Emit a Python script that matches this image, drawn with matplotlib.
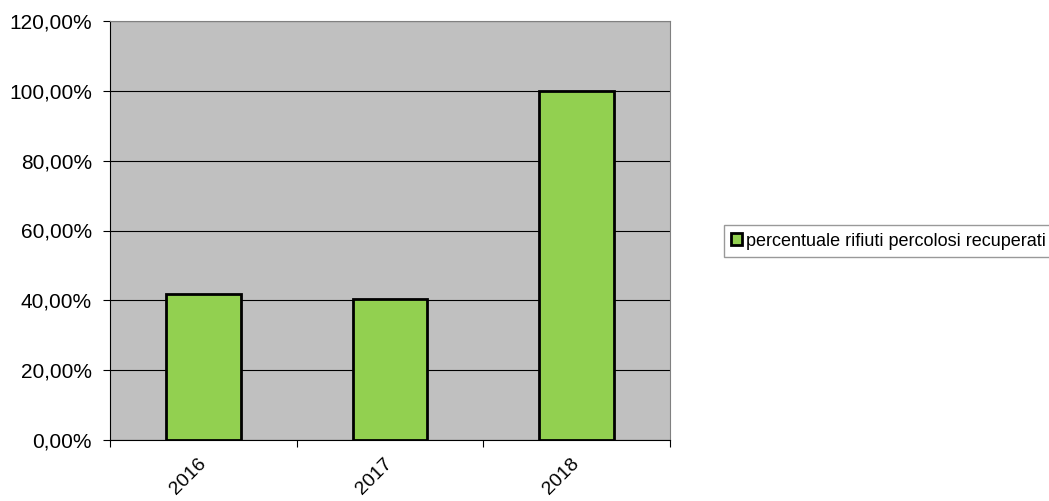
import matplotlib.pyplot as plt
from matplotlib.ticker import FuncFormatter
import numpy as np

years = ["2016", "2017", "2018"]
percent_recovered = [41.8, 40.4, 100.0]
series_name = "percentuale rifiuti percolosi recuperati"

plt.rcParams["font.family"] = ["Liberation Sans", "DejaVu Sans"]

fig = plt.figure(figsize=(10.49, 5.01), dpi=100)
ax = fig.add_axes([110 / 1049, 61 / 501, 560 / 1049, 419 / 501])
ax.set_facecolor("#C0C0C0")

x = np.arange(len(years))
ax.bar(x, percent_recovered, width=0.4, color="#92D050", edgecolor="black",
       linewidth=2, label=series_name, zorder=3)

ax.set_xlim(-0.5, len(years) - 0.5)
ax.set_ylim(0, 120)
ax.set_yticks(np.arange(0, 121, 20))
ax.yaxis.set_major_formatter(FuncFormatter(lambda v, p: f"{v:.2f}%".replace(".", ",")))
ax.grid(axis="y", color="black", linewidth=0.8, zorder=1)

# category boundaries carry the ticks, labels sit in between
ax.set_xticks(np.arange(-0.5, len(years), 1.0))
ax.set_xticklabels([])
ax.set_xticks(x, minor=True)
ax.set_xticklabels(years, minor=True, rotation=45, fontsize=14,
                   ha="right", va="center", rotation_mode="anchor")
ax.tick_params(axis="x", which="minor", length=0, pad=15)
ax.tick_params(axis="x", which="major", length=5, direction="out")
ax.tick_params(axis="y", length=5, labelsize=15, pad=8)

for side in ["top", "right"]:
    ax.spines[side].set_color("#808080")
for side in ["left", "bottom"]:
    ax.spines[side].set_color("black")

leg = fig.legend(loc="center left", bbox_to_anchor=(724 / 1049, 1 - 241 / 501),
                 fontsize=13, frameon=True, fancybox=False, handlelength=0.6,
                 handleheight=0.6, handletextpad=0.2, borderpad=0.4,
                 borderaxespad=0)
leg.get_frame().set_edgecolor("#808080")
leg.get_frame().set_linewidth(1)

fig.savefig("out.png", dpi=100)
